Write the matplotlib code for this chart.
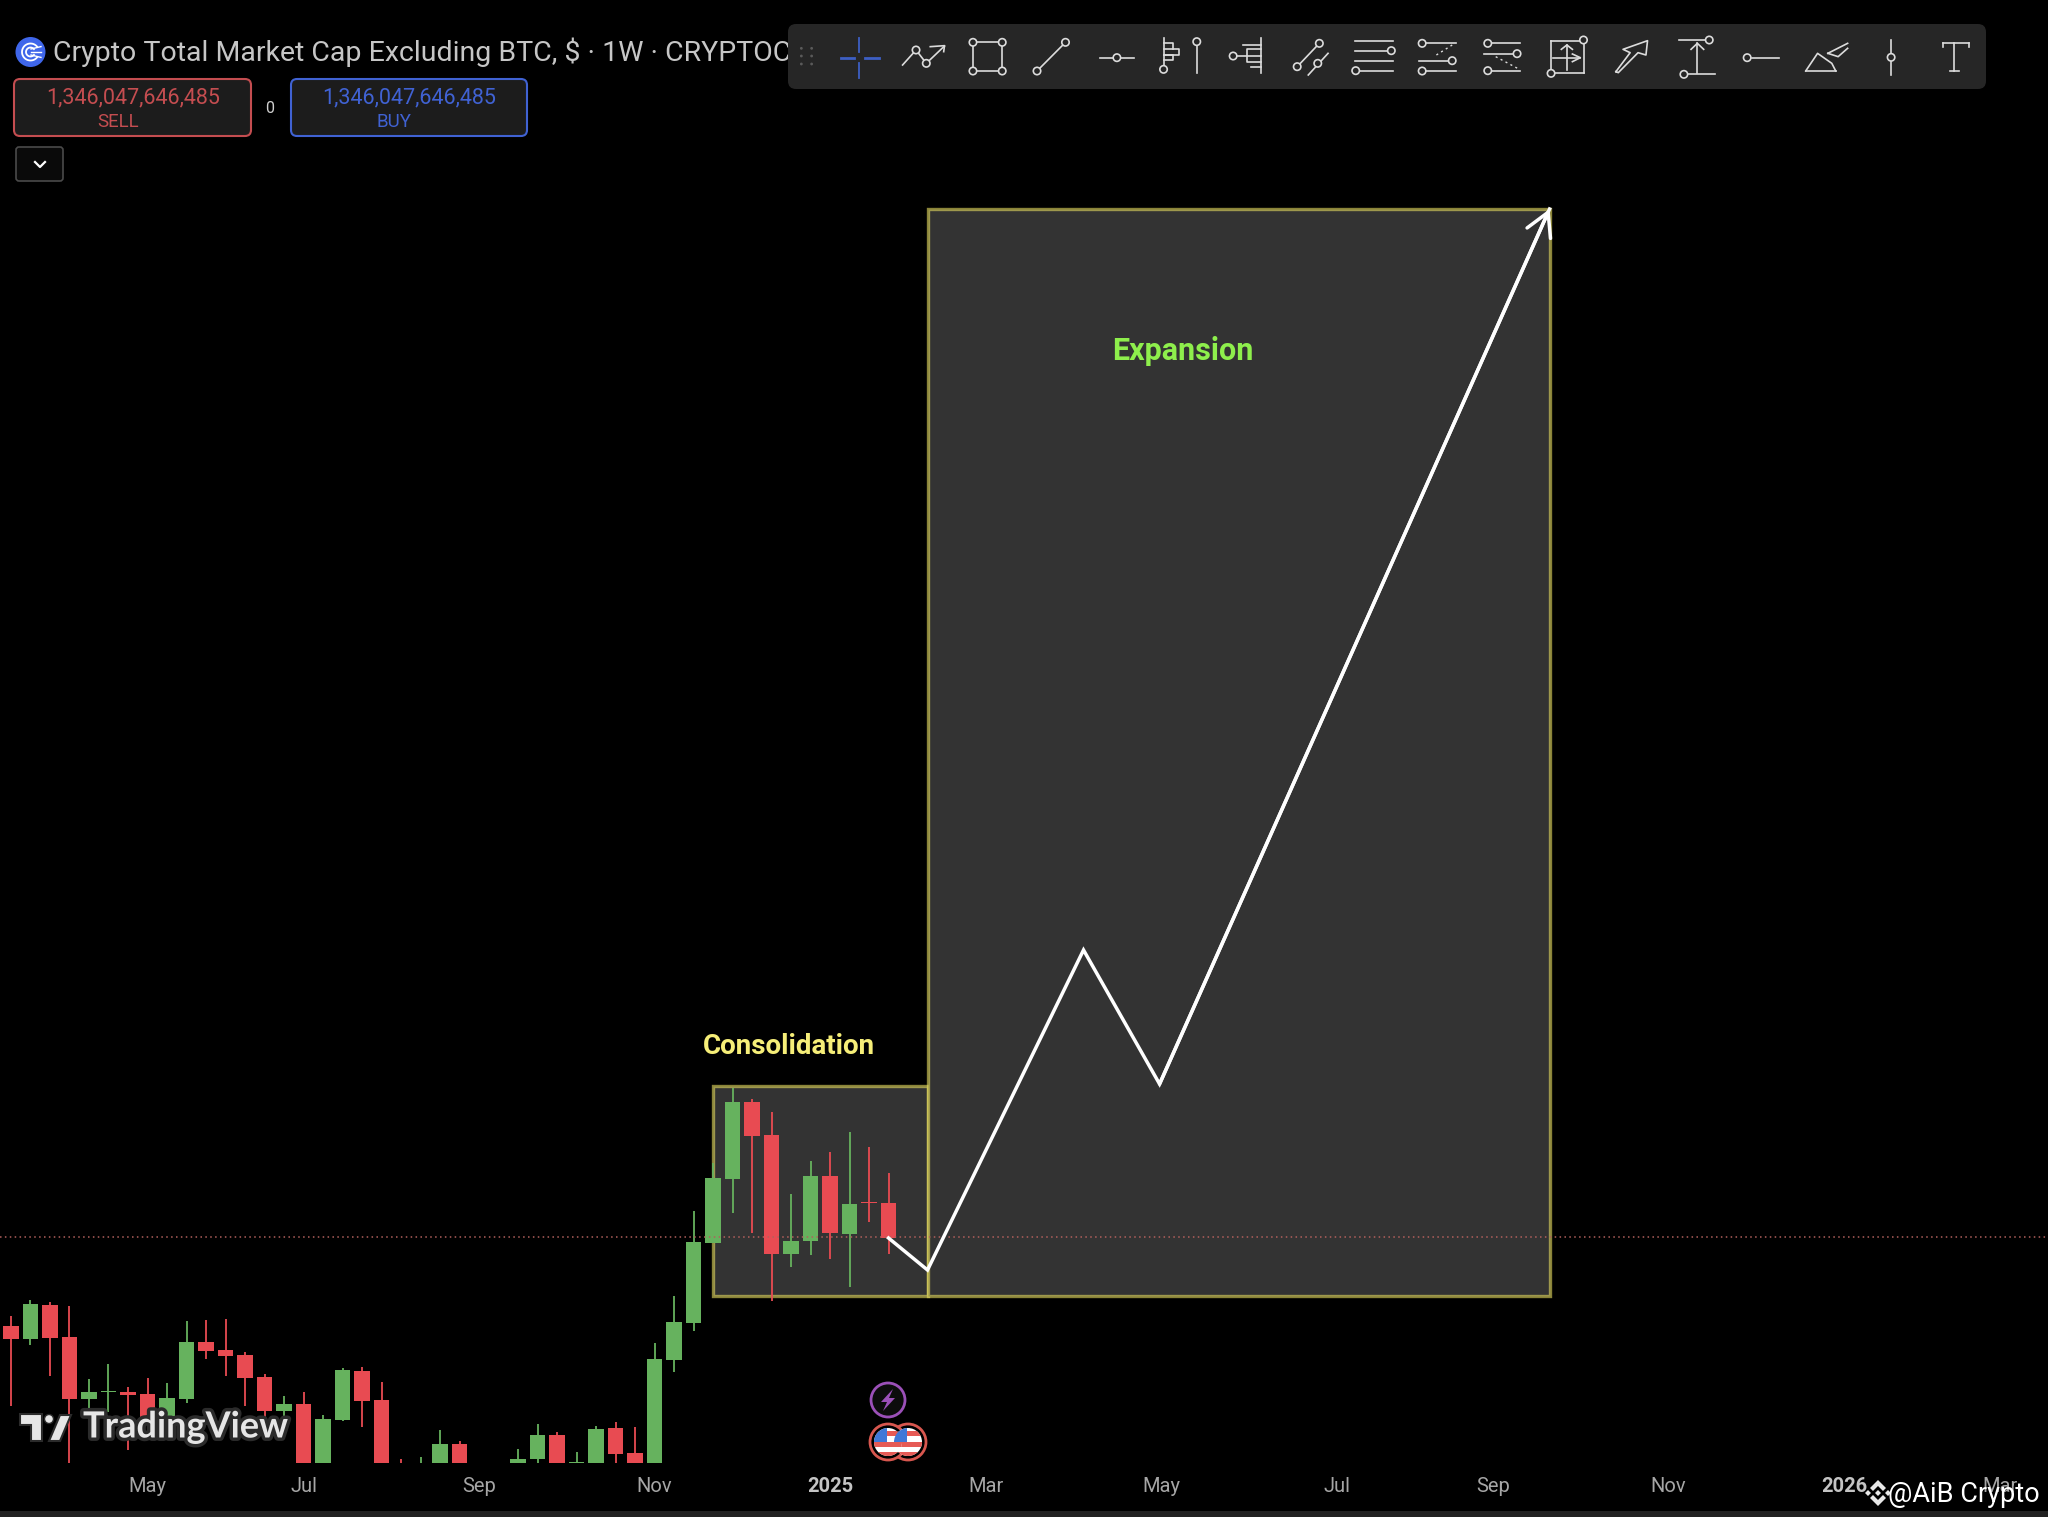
import numpy as np
import matplotlib
matplotlib.use("Agg")
from matplotlib import pyplot as plt
from matplotlib.patches import Rectangle, FancyBboxPatch, Circle, Polygon
import matplotlib.patheffects as pe

plt.rcParams['font.family'] = ['Roboto', 'DejaVu Sans']

# weekly candles, values in billions (the pane cuts off everything under 1119)
opens = [1256, 1243, 1277, 1245, 1183, 1190, 1190, 1188, 1164, 1183, 1240, 1232, 1227, 1205, 1171, 1178,
         1100, 1162, 1211, 1182, 1115, 1105, 1105, 1138, 1112, 1102, 1112, 1123, 1147, 1119, 1119, 1154,
         1129, 1110, 1222, 1259, 1339, 1403, 1480, 1447, 1328, 1341, 1406, 1348, 1380, 1379]
closes = [1243, 1278, 1244, 1183, 1190, 1191, 1187, 1164, 1184, 1240, 1231, 1226, 1204, 1171, 1178, 1100,
          1163, 1212, 1181, 1105, 1105, 1115, 1138, 1105, 1102, 1112, 1123, 1147, 1110, 1120, 1153, 1128,
          1110, 1223, 1260, 1340, 1404, 1480, 1446, 1328, 1341, 1406, 1349, 1378, 1379, 1344]
highs = [1266, 1282, 1280, 1276, 1203, 1218, 1195, 1204, 1199, 1261, 1262, 1263, 1230, 1208, 1186, 1190,
         1167, 1214, 1215, 1200, 1123, 1125, 1152, 1141, 1116, 1117, 1133, 1158, 1150, 1130, 1156, 1160,
         1155, 1239, 1286, 1371, 1419, 1494, 1483, 1470, 1388, 1421, 1430, 1450, 1435, 1409]
lows = [1176, 1237, 1206, 1119, 1170, 1170, 1132, 1155, 1164, 1179, 1223, 1206, 1176, 1164, 1164, 1090,
        1090, 1161, 1155, 1100, 1100, 1100, 1100, 1100, 1098, 1098, 1110, 1119, 1105, 1119, 1119, 1119,
        1105, 1105, 1210, 1251, 1339, 1369, 1349, 1281, 1315, 1327, 1323, 1295, 1360, 1328]

last_price = 1345
tick_weeks = [7, 15, 24, 33, 42, 50, 59, 68, 76, 85, 94, 102]
tick_names = ["May", "Jul", "Sep", "Nov", "2025", "Mar", "May", "Jul", "Sep", "Nov", "2026", "Mar"]

# hand drawn things on the chart
consol_weeks = [36, 47]
consol_prices = [1286, 1496]
expan_weeks = [47, 78.9]
expan_prices = [1286, 2373]
path_weeks = [45, 47, 55, 58.9, 78.9]
path_prices = [1344, 1312, 1632, 1498, 2373]

GREEN = "#66b25e"
RED = "#e84b52"
BOX_EDGE = (0.93, 0.89, 0.38, 0.58)

fig = plt.figure(figsize=(20.48, 15.17), dpi=100, facecolor="black")

# チャート本体
ax = fig.add_axes([0, 54 / 1517, 1, 1463 / 1517], facecolor="black")
ax.set_xlim(-0.564, 104.46)
ax.set_ylim(1119, 2582)
for s in ax.spines.values():
    s.set_visible(False)
ax.yaxis.set_visible(False)
ax.set_xticks(tick_weeks)
ax.set_xticklabels(tick_names, fontsize=14.5, color="#a6a6a6")
ax.tick_params(axis="x", length=0, pad=10)
for t in ax.get_xticklabels():
    if t.get_text().startswith("20"):
        t.set_fontweight("bold")
        t.set_color("#c4c4c4")

for w, p in [(consol_weeks, consol_prices), (expan_weeks, expan_prices)]:
    ax.add_patch(Rectangle((w[0], p[0]), w[1] - w[0], p[1] - p[0], facecolor="#333333",
                           edgecolor=BOX_EDGE, linewidth=2.4, zorder=1))

weeks = np.arange(len(opens))
o = np.array(opens)
c = np.array(closes)
colors = [GREEN if b > a else RED for a, b in zip(o, c)]
ax.vlines(weeks, lows, highs, colors=colors, linewidth=1.3, zorder=2)
ax.bar(weeks, np.abs(c - o), bottom=np.minimum(o, c), width=0.785, color=colors, zorder=3)

ax.axhline(last_price, color="#b2605c", linewidth=1.1, linestyle=(0, (1, 2.2)), zorder=4)

ax.plot(path_weeks, path_prices, color="white", linewidth=2.5, solid_joinstyle="miter", zorder=5)
ax.annotate("", xy=(path_weeks[-1], path_prices[-1]), xytext=(path_weeks[-2], path_prices[-2]), zorder=5,
            arrowprops=dict(arrowstyle="->,head_length=0.75,head_width=0.42", color="white", lw=2.5,
                            mutation_scale=22, shrinkA=0, shrinkB=0))

ax.text(60.1, 2231, "Expansion", color="#8eef4c", fontsize=22, fontweight="bold", ha="center", va="center", zorder=6)
ax.text(39.9, 1536, "Consolidation", color="#f6ee78", fontsize=20, fontweight="bold", ha="center", va="center", zorder=6)

# 画面のUI部分はピクセル座標で描く
ui = fig.add_axes([0, 0, 1, 1], facecolor="none")
ui.set_xlim(0, 2048)
ui.set_ylim(1517, 0)
ui.axis("off")

ui.add_patch(Rectangle((0, 1511), 2048, 6, facecolor="#222222", edgecolor="none"))

# header
ui.add_patch(Circle((30.5, 52), 15, facecolor="#3f66ea", edgecolor="none"))
for r, a0, a1 in [(8.5, 40, 320), (4.5, 40, 320)]:
    a = np.radians(np.linspace(a0, a1, 30))
    ui.plot(30.5 + r * np.cos(a), 52 + r * np.sin(a), color="white", lw=1.3)
for dy in (-3, 0, 3):
    ui.plot([31, 41], [52 + dy, 52 + dy * 1.8], color="white", lw=1.0)
ui.text(53, 52, "Crypto Total Market Cap Excluding BTC, $ · 1W · CRYPTOCAP", color="#c6c6c6",
        fontsize=20.5, va="center", ha="left")


def button(x0, x1, edge, label, label_x, value_x):
    ui.add_patch(FancyBboxPatch((x0 + 6, 85), x1 - x0 - 12, 45, boxstyle="round,pad=6", facecolor="#1c1c1c",
                                edgecolor=edge, linewidth=1.5))
    ui.text(value_x, 97.5, "1,346,047,646,485", color=edge, fontsize=15.5, ha="center", va="center")
    ui.text(label_x, 121.5, label, color=edge, fontsize=13.5, ha="center", va="center")


button(14, 251, "#c44d50", "SELL", 118, 133)
button(291, 527, "#4062d3", "BUY", 394, 409)
ui.text(270, 108, "0", color="#cfcfcf", fontsize=11.5, ha="center", va="center")

ui.add_patch(FancyBboxPatch((19, 150), 41, 28, boxstyle="round,pad=3", facecolor="#0a0a0a",
                            edgecolor="#4a4a4a", linewidth=1.2))
ui.plot([35, 40, 45], [162, 167, 162], color="white", lw=1.6)

# toolbar (座標はズーム画像の値のまま)
ui.add_patch(FancyBboxPatch((796, 32), 1182, 49, boxstyle="round,pad=8", facecolor="#262626",
                            edgecolor="none", zorder=3))


def zx(z):
    return 780 + np.asarray(z) / 1.2645


def zy(z):
    return 10 + np.asarray(z) / 3


ICON = "#dcdcdc"
icon_lines = [
    [(155, 165), (172, 120), (185, 160), (208, 108)], [(190, 110), (208, 107), (207, 125)],
    [(244, 97), (281, 97), (281, 183), (244, 183), (244, 97)],
    [(325, 183), (361, 97)],
    [(405, 143), (448, 143)],
    [(485, 85), (485, 170)], [(485, 118), (505, 118), (505, 135), (485, 135)], [(485, 100), (497, 100), (497, 118)],
    [(485, 135), (497, 135), (497, 150), (485, 150)], [(527, 105), (527, 190)],
    [(608, 85), (608, 190)], [(573, 138), (608, 138)], [(608, 118), (590, 118), (590, 155), (608, 155)],
    [(585, 105), (608, 105)], [(595, 170), (608, 170)],
    [(654, 170), (682, 100)], [(668, 195), (693, 130)],
    [(727, 92), (775, 92)], [(727, 122), (770, 122)], [(727, 152), (775, 152)], [(733, 182), (775, 182)],
    [(817, 100), (855, 100)], [(808, 152), (846, 152)], [(817, 183), (855, 183)],
    [(900, 100), (936, 100)], [(890, 131), (928, 131)], [(900, 182), (936, 182)],
    [(975, 92), (1012, 92)], [(1017, 95), (1017, 190)], [(980, 190), (1017, 190)], [(975, 92), (975, 185)],
    [(978, 143), (1012, 143)], [(995, 105), (995, 180)], [(988, 118), (995, 105), (1002, 118)],
    [(1002, 132), (1012, 143), (1002, 155)],
    [(1057, 185), (1075, 128), (1066, 118), (1097, 92), (1095, 135), (1085, 128), (1060, 188), (1057, 185)],
    [(1137, 90), (1170, 90)], [(1148, 193), (1182, 193)], [(1160, 100), (1160, 190)],
    [(1152, 118), (1160, 100), (1168, 118)],
    [(1229, 143), (1263, 143)],
    [(1297, 183), (1335, 183)], [(1297, 183), (1312, 130), (1330, 160), (1335, 183)],
    [(1325, 130), (1350, 100)], [(1325, 130), (1338, 140), (1350, 115)],
    [(1405, 90), (1405, 195)],
    [(1470, 100), (1503, 100)], [(1485, 100), (1485, 183)], [(1480, 183), (1491, 183)],
    [(1470, 100), (1470, 110)], [(1503, 100), (1503, 110)],
]
icon_dots = [(172, 120), (185, 160), (244, 97), (281, 97), (244, 183), (281, 183), (325, 183), (361, 97),
             (426, 143), (485, 178), (527, 95), (573, 138), (654, 170), (682, 100), (680, 160), (773, 122),
             (728, 182), (812, 100), (850, 152), (812, 183), (895, 100), (932, 131), (895, 182), (1016, 90),
             (975, 190), (1175, 90), (1143, 193), (1223, 143), (1405, 142)]
for pts in icon_lines:
    pts = np.array(pts)
    ui.plot(zx(pts[:, 0]), zy(pts[:, 1]), color=ICON, lw=1.2, zorder=4)
for px, py in icon_dots:
    ui.add_patch(Circle((zx(px), zy(py)), 3.7, facecolor="#262626", edgecolor=ICON, linewidth=1.2, zorder=5))
for a, b in [((830, 135), (850, 105)), ((905, 140), (935, 178))]:
    ui.plot(zx([a[0], b[0]]), zy([a[1], b[1]]), color=ICON, lw=1.0, ls=(0, (1.5, 2.5)), zorder=4)

# crosshair
BLUE = "#3d5fc4"
ui.plot(zx([100, 100]), zy([85, 125]), color=BLUE, lw=1.3, zorder=4)
ui.plot(zx([100, 100]), zy([160, 203]), color=BLUE, lw=1.3, zorder=4)
ui.plot(zx([77, 93]), zy([143, 143]), color=BLUE, lw=2.0, zorder=4)
ui.plot(zx([108, 125]), zy([143, 143]), color=BLUE, lw=2.0, zorder=4)
for gx in (27, 40):
    for gy in (115, 138, 162):
        ui.add_patch(Circle((zx(gx), zy(gy)), 1.4, facecolor="#5a5a5a", edgecolor="none", zorder=4))

# TradingView logo
halo = [pe.withStroke(linewidth=5, foreground="#2b2b2b")]
tv_parts = [
    [(20, 1414), (42, 1414), (42, 1441), (31, 1441), (31, 1425), (20, 1425)],
    [(60, 1415), (71, 1415), (60, 1441), (49, 1441)],
]
for pts in tv_parts:
    ui.add_patch(Polygon(pts, closed=True, facecolor="#e6e6e6", edgecolor="#2b2b2b", linewidth=1.5, zorder=6))
ui.add_patch(Circle((49, 1419), 4.5, facecolor="#e6e6e6", edgecolor="#2b2b2b", linewidth=1.0, zorder=6))
ui.text(83, 1427, "TradingView", color="#e6e6e6", fontsize=26, fontweight="bold", family=["Lato", "DejaVu Sans"],
        ha="left", va="center", path_effects=halo, zorder=6)

# event markers
ui.add_patch(Circle((888, 1400), 17, facecolor="#0c0c0c", edgecolor="#9b50b8", linewidth=2, zorder=6))
ui.add_patch(Polygon([(893, 1389), (881, 1402), (887, 1402), (883, 1411), (895, 1398), (889, 1398)],
                     closed=True, facecolor="#9b50b8", edgecolor="none", zorder=7))


def flag(cx, cy):
    clip = Circle((cx, cy), 14, transform=ui.transData)
    ui.add_patch(Circle((cx, cy), 18, facecolor="black", edgecolor="#d8574f", linewidth=2, zorder=7))
    parts = [Rectangle((cx - 15, cy - 15), 30, 30, facecolor="white", edgecolor="none", zorder=8)]
    for dy in (-11, 0, 10):
        parts.append(Rectangle((cx - 15, cy + dy), 30, 5, facecolor="#e65a55", edgecolor="none", zorder=8))
    parts.append(Rectangle((cx - 15, cy - 15), 14, 15, facecolor="#3f78d8", edgecolor="none", zorder=9))
    for p in parts:
        ui.add_patch(p)
        p.set_clip_path(clip)


flag(908, 1442)
flag(888, 1442)

# watermark
for d in [[(0, -13), (8, -5), (5, -2), (0, -7), (-5, -2), (-8, -5)],
          [(0, 13), (8, 5), (5, 2), (0, 7), (-5, 2), (-8, 5)],
          [(0, -3), (3, 0), (0, 3), (-3, 0)],
          [(-10, -3), (-7, 0), (-10, 3), (-13, 0)],
          [(10, -3), (13, 0), (10, 3), (7, 0)]]:
    ui.add_patch(Polygon([(1878 + a, 1493 + b) for a, b in d], closed=True, facecolor="#e8e8e8", edgecolor="none", zorder=8))
ui.text(2040, 1494, "@AiB Crypto", color="white", fontsize=19.5, ha="right", va="center", zorder=8)

fig.savefig("out.png", dpi=100, facecolor="black")
